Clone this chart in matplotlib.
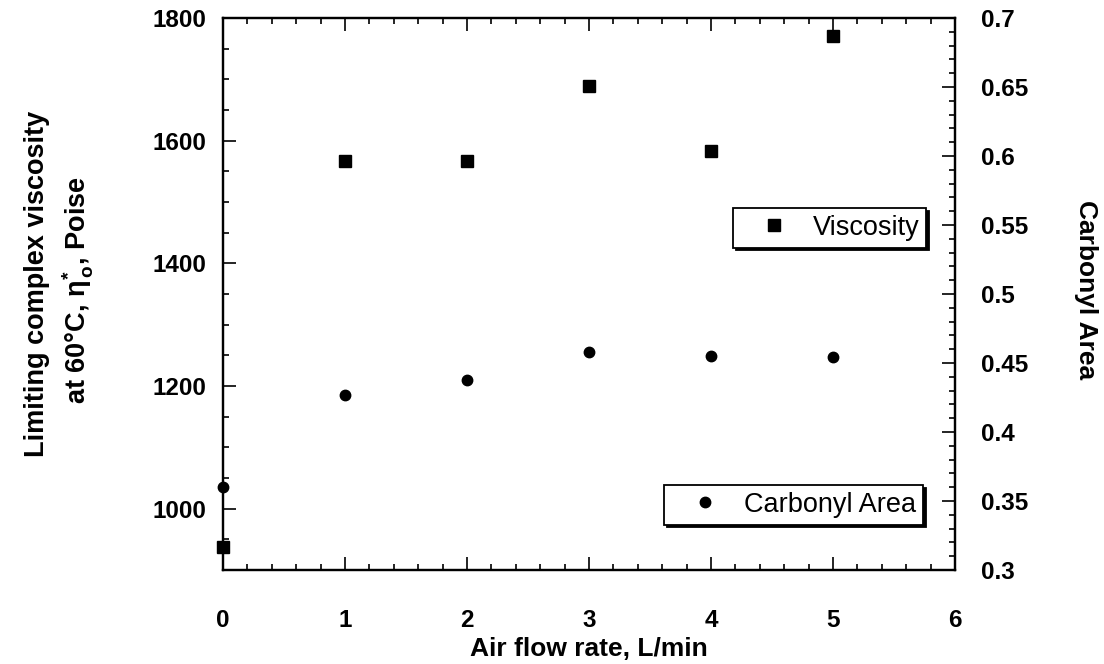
import matplotlib
matplotlib.use("Agg")
import matplotlib.pyplot as plt
from matplotlib.ticker import MultipleLocator
from matplotlib.lines import Line2D

# ---- data ----
air_flow = [0, 1, 2, 3, 4, 5]
viscosity = [938, 1567, 1567, 1689, 1583, 1771]
carbonyl = [0.360, 0.427, 0.438, 0.458, 0.455, 0.454]

x_ticks = [0, 1, 2, 3, 4, 5, 6]
left_labels = [1000, 1200, 1400, 1600, 1800]
right_labels = [0.3, 0.35, 0.4, 0.45, 0.5, 0.55, 0.6, 0.65, 0.7]

FONT = "Liberation Sans"
plt.rcParams["font.family"] = [FONT, "DejaVu Sans"]
plt.rcParams["mathtext.fontset"] = "custom"
plt.rcParams["mathtext.rm"] = "Liberation Sans:bold"
plt.rcParams["mathtext.bf"] = "Liberation Sans:bold"
plt.rcParams["mathtext.it"] = "Liberation Sans:bold"
plt.rcParams["mathtext.default"] = "rm"

W, H = 1104, 664
fig = plt.figure(figsize=(W / 100, H / 100), dpi=100)
L, R, T, B = 223, 955, 18, 570
ax = fig.add_axes([L / W, 1 - B / H, (R - L) / W, (B - T) / H])
ax2 = ax.twinx()

ax.plot(air_flow, viscosity, linestyle="none", marker="s", ms=9,
        color="black", label="Viscosity", clip_on=False, zorder=5)
ax2.plot(air_flow, carbonyl, linestyle="none", marker="o", ms=7.5,
         color="black", label="Carbonyl Area", clip_on=False, zorder=5)

ax.set_xlim(0, 6)
ax.set_ylim(900, 1800)
ax2.set_ylim(0.3, 0.7)

TICK_FS = 17.5
ax.set_xticks(x_ticks, [str(v) for v in x_ticks], fontsize=TICK_FS, fontweight="bold")
ax.xaxis.set_minor_locator(MultipleLocator(0.2))
ax.set_yticks(left_labels, [str(v) for v in left_labels], fontsize=TICK_FS, fontweight="bold")
ax.yaxis.set_minor_locator(MultipleLocator(50))
ax2.set_yticks(right_labels, [f"{v:g}" for v in right_labels], fontsize=TICK_FS, fontweight="bold")
ax2.yaxis.set_minor_locator(MultipleLocator(0.01))

for a in (ax, ax2):
    for s in a.spines.values():
        s.set_linewidth(1.6)

ax.tick_params(axis="x", which="both", direction="in", top=True, bottom=True,
               width=1.2)
ax.tick_params(axis="x", which="major", length=9.5, pad=28)
ax.tick_params(axis="x", which="minor", length=4.5)
ax.tick_params(axis="y", which="both", direction="in", left=True, right=False,
               width=1.2)
ax.tick_params(axis="y", which="major", length=9.5, pad=12)
ax.tick_params(axis="y", which="minor", length=4.5)
ax2.tick_params(axis="y", which="both", direction="in", right=True, left=False,
                width=1.2)
ax2.tick_params(axis="y", which="major", length=9.5, pad=19)
ax2.tick_params(axis="y", which="minor", length=4.5)

ax.set_xlabel("Air flow rate, L/min", fontsize=19, fontweight="bold", labelpad=4)

fig.text(37 / W, 1 - 284 / H, "Limiting complex viscosity", rotation=90,
         ha="center", va="center", fontsize=19.5, fontweight="bold")
fig.text(78 / W, 1 - 290 / H, r"at 60°C, $\eta^{*}_{\,o}$, Poise", rotation=90,
         ha="center", va="center", fontsize=19.5, fontweight="bold")
fig.text(1086 / W, 1 - 290 / H, "Carbonyl Area", rotation=-90,
         ha="center", va="center", fontsize=19, fontweight="bold")

leg_kw = dict(frameon=True, fancybox=False, edgecolor="black", framealpha=1,
              shadow={"color": "black", "alpha": 1}, fontsize=19.5,
              borderpad=0.25, handlelength=2.5, handletextpad=0.2,
              borderaxespad=0, loc="upper left",
              bbox_transform=fig.transFigure)
h1 = Line2D([], [], linestyle="none", marker="s", ms=9, color="black")
h2 = Line2D([], [], linestyle="none", marker="o", ms=7.5, color="black")
leg1 = fig.legend([h1], ["Viscosity"], bbox_to_anchor=(733 / W, 1 - 208 / H), **leg_kw)
leg1.get_frame().set_linewidth(1.3)
leg2 = fig.legend([h2], ["Carbonyl Area"], bbox_to_anchor=(664 / W, 1 - 485 / H), **leg_kw)
leg2.get_frame().set_linewidth(1.3)

fig.savefig("out.png", dpi=100)
